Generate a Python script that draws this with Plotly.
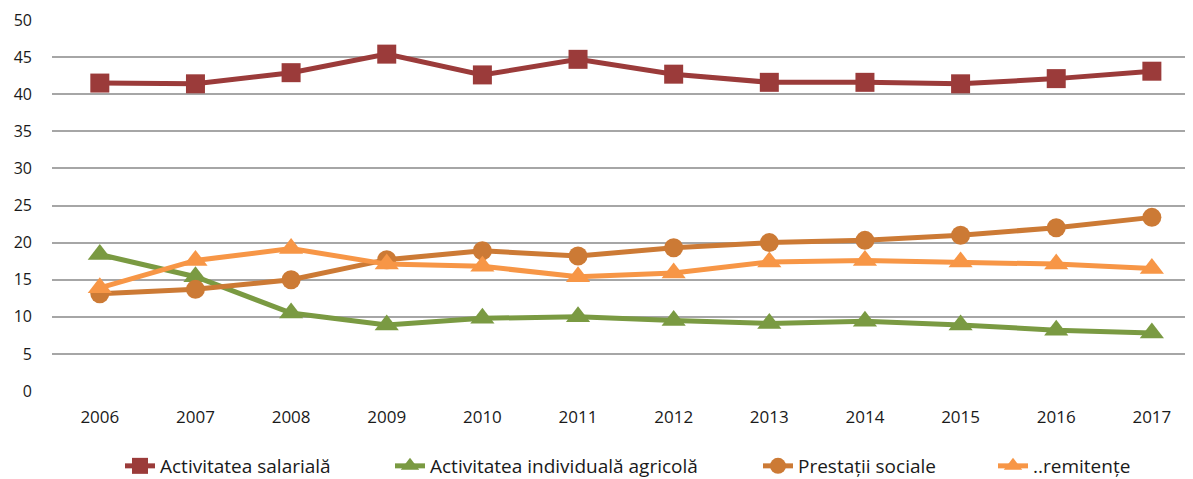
import plotly.graph_objects as go

years = ["2006", "2007", "2008", "2009", "2010", "2011", "2012", "2013", "2014", "2015", "2016", "2017"]
salariala = [41.5, 41.4, 42.9, 45.4, 42.6, 44.7, 42.7, 41.6, 41.6, 41.4, 42.1, 43.1]
agricola = [18.4, 15.4, 10.5, 8.9, 9.8, 10.0, 9.5, 9.1, 9.4, 8.9, 8.2, 7.8]
sociale = [13.1, 13.7, 15.0, 17.7, 18.9, 18.2, 19.3, 20.0, 20.3, 21.0, 22.0, 23.4]
remitente = [13.9, 17.6, 19.2, 17.1, 16.8, 15.4, 15.9, 17.4, 17.6, 17.4, 17.1, 16.5]

names = ["Activitatea salarială", "Activitatea individuală agricolă", "Prestații sociale", "..remitențe"]
colors = ["#9B3B3A", "#7A9A42", "#CC7A35", "#F79646"]
symbols = ["square", "triangle-up", "circle", "triangle-up"]
sizes = [19, 21, 19, 21]
series = [salariala, agricola, sociale, remitente]
legend_text_px = [161, 431, 799, 1034]

# page body has an 8px default margin; figure is sized to compensate
OFF = 8
W, H = 1193 - OFF, 479 - OFF

fig = go.Figure()
legend_ids = ["legend", "legend2", "legend3", "legend4"]
for n, c, s, sz, v, lid in zip(names, colors, symbols, sizes, series, legend_ids):
    fig.add_trace(go.Scatter(
        x=years, y=v, name=n, mode="lines+markers",
        line=dict(color=c, width=5),
        marker=dict(symbol=s, size=sz, color=c),
        cliponaxis=False, legend=lid,
    ))

font_family = "'Open Sans', sans-serif"
legend_common = dict(orientation="h", xref="container", yref="container", xanchor="left",
                     yanchor="middle", y=(H - (466 - OFF)) / H,
                     font=dict(size=19, color="#1a1a1a"),
                     bgcolor="rgba(0,0,0,0)", borderwidth=0)
layout_legends = {}
for lid, tx in zip(legend_ids, legend_text_px):
    layout_legends[lid] = dict(legend_common, x=(tx - OFF - 41) / W)

fig.update_layout(
    width=W, height=H,
    margin=dict(l=52 - OFF, r=0, t=20 - OFF, b=88, autoexpand=False),
    paper_bgcolor="white", plot_bgcolor="white",
    font=dict(family=font_family, size=16, color="#1a1a1a"),
    showlegend=True,
    **layout_legends,
)
fig.update_xaxes(type="category", range=[-0.5, 11.43], showgrid=False, showline=False,
                 zeroline=False, ticks="", ticklabelstandoff=14, automargin=False,
                 tickfont=dict(size=17))
fig.update_yaxes(range=[0, 50], dtick=5, showgrid=True, gridcolor="#A6A6A6", gridwidth=1.5,
                 zeroline=False, showline=False, ticks="", ticklabelstandoff=19, automargin=False,
                 tickfont=dict(size=16))

fig.write_html("out.html")
